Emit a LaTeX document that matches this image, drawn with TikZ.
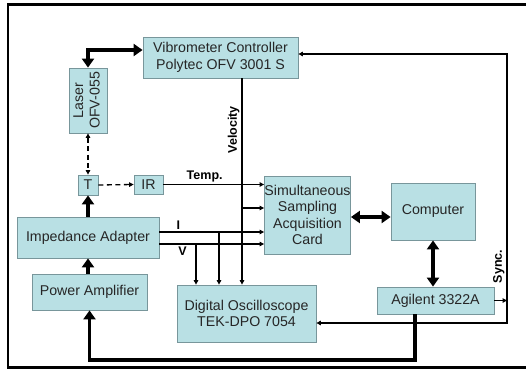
\documentclass[tikz,border=0pt]{standalone}
\usepackage{fontspec}
\setmainfont{Liberation Sans}
\usetikzlibrary{arrows.meta,calc}
\definecolor{boxfill}{RGB}{185,224,228}
\definecolor{boxedge}{RGB}{120,150,155}
\tikzset{
  blk/.style={rectangle,fill=boxfill,draw=boxedge,line width=0.8pt,text=black!85,
    align=center,inner sep=0pt,font=\fontsize{14.2}{16.5}\selectfont},
  lab/.style={font=\bfseries\fontsize{12.5}{14}\selectfont,inner sep=2pt},
  rim/.style={line width=2.6pt},
  % thin signal lines, thick power / data lines
  sig/.style={-{Triangle[length=4.5pt,width=4.5pt]},line width=1.2pt},
  dsig/.style={{Triangle[length=4.5pt,width=4.5pt]}-{Triangle[length=4.5pt,width=4.5pt]},
    line width=1.2pt},
  dashline/.style={dash pattern=on 5pt off 3.5pt,line width=1.3pt},
  bus/.style={-{Triangle[length=9pt,width=12pt]},line width=3.2pt},
  dbus/.style={{Triangle[length=9pt,width=12pt]}-{Triangle[length=9pt,width=12pt]},
    line width=3.2pt}
}

\begin{document}
\begin{tikzpicture}[x=1pt,y=-1pt]
  \useasboundingbox (0,0) rectangle (526,369);
  \draw[rim] (526,4.7) -- (8,4.7) -- (8,367.3) -- (526,367.3);

  \node[blk,minimum width=155pt,minimum height=41pt] (vib) at (220.5,57.5) {Vibrometer Controller\\Polytec OFV 3001 S};
  \node[blk,minimum width=38pt,minimum height=65pt] (laser) at (88,100.5)
    {\rotatebox{90}{\begin{tabular}{@{}c@{}}Laser\\OFV-055\end{tabular}}};
  \node[blk,minimum size=20pt] (t) at (88,185) {T};
  \node[blk,minimum width=29pt,minimum height=19pt] (ir) at (148.5,184.5) {IR};
  \node[blk,minimum width=142pt,minimum height=41pt] (ia) at (88,237.5) {Impedance Adapter};
  \node[blk,minimum width=115pt,minimum height=36pt] (pa) at (89.5,292) {Power Amplifier};
  \node[blk,minimum width=85pt,minimum height=78pt] (ssac) at (307.5,215) {Simultaneous\\Sampling\\Acquisition\\Card};
  \node[blk,minimum width=84pt,minimum height=57pt] (pc) at (433,211.5) {Computer};
  \node[blk,minimum width=139pt,minimum height=57pt] (dso) at (246.5,313.5) {Digital Oscilloscope\\TEK-DPO 7054};
  \node[blk,minimum width=117pt,minimum height=27pt] (agi) at (435.5,300.5) {Agilent 3322A};

  \coordinate (vel) at (242,208);
  \coordinate (ic) at (219,232);
  \coordinate (vc) at (196,244);
  \coordinate (st) at (507,54);
  \coordinate (sb) at (507,323);
  \coordinate (ret) at (415,360);

  \draw[dbus] (laser.north) |- ([yshift=7.5pt]vib.west);
  \draw[dsig,dashline] (laser.south) -- (t.north);
  \draw[sig,dashline] (t.east) -- (ir.west);
  \draw[bus] (ia.north) -- (t.south);
  \draw[bus] (pa.north -| ia.south) -- (ia.south);
  \draw[bus] (agi.south -| ret) -- (ret) -| (pa.south);
  \draw[dbus] ([yshift=-2pt]ssac.east) -- ([yshift=-2pt]ssac.east -| pc.west);
  \draw[dbus] (pc.south) -- (pc.south |- agi.north);

  \draw[sig] (ir.east) -- (ir.east -| ssac.west) node[lab,pos=0.41,above] {Temp.};
  \draw[sig] ([yshift=5.5pt]ia.east) -- ([yshift=5.5pt]ia.east -| ssac.west) node[lab,pos=0.18,above] {I};
  \draw[sig] ([yshift=-6.5pt]ia.east) -- ([yshift=-6.5pt]ia.east -| ssac.west) node[lab,pos=0.22,below] {V};
  \draw[sig] (vib.south -| vel) -- (dso.north -| vel) node[lab,pos=0.25,rotate=90,above] {Velocity};
  \draw[sig] (vel) -- (vel -| ssac.west);
  \draw[sig] (ic) -- (ic |- dso.north);
  \draw[sig] (vc) -- (vc |- dso.north);

  \draw[sig] (agi.east) -- (agi.east -| st);
  \draw[dsig] (st -| vib.east) -- (st) -- (sb) node[lab,pos=0.79,rotate=90,above] {Sync.} -- (sb -| dso.east);
\end{tikzpicture}
\end{document}
